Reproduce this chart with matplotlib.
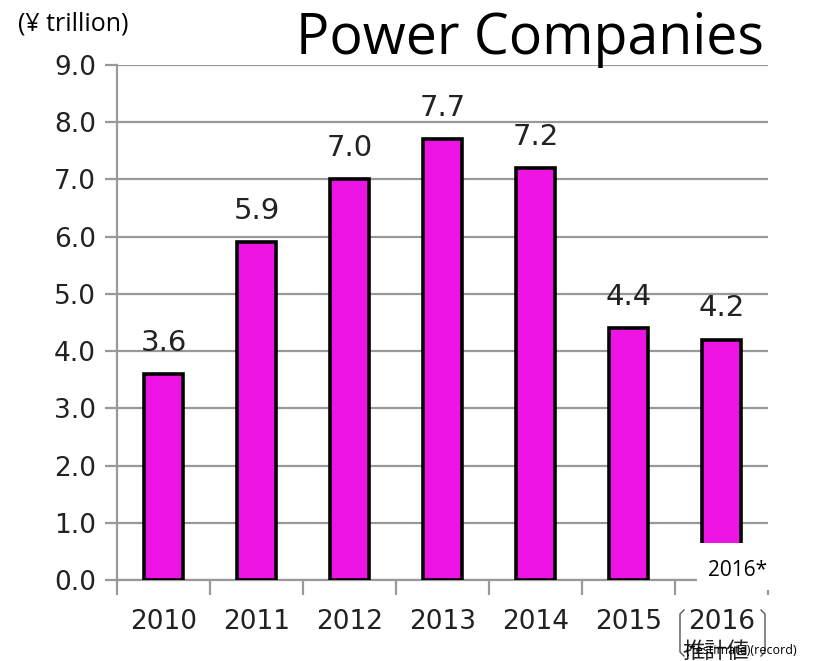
import numpy as np
import matplotlib.pyplot as plt
from matplotlib.lines import Line2D
from matplotlib.patches import Rectangle

# fuel cost of the 10 power companies
years = ['2010', '2011', '2012', '2013', '2014', '2015', '2016']
cost = [3.6, 5.9, 7.0, 7.7, 7.2, 4.4, 4.2]
yticks = [0.0, 1.0, 2.0, 3.0, 4.0, 5.0, 6.0, 7.0, 8.0, 9.0]

W, H = 816, 661
fig = plt.figure(figsize=(W/100, H/100), dpi=100)
ax = fig.add_axes([117/W, 1-580/H, (768-117)/W, (580-65)/H])

x = np.arange(len(years))
ax.bar(x, cost, width=0.43, color='#EE14E6', edgecolor='black', linewidth=2.6, zorder=3)
for xi, v in zip(x, cost):
    ax.text(xi, v + 0.3, '%.1f' % v, ha='center', va='bottom', fontsize=21, color='#222222')

ax.set_xlim(-0.5, len(years) - 0.5)
ax.set_ylim(0, 9)
ax.set_yticks(yticks)
ax.set_yticklabels(['%.1f' % t for t in yticks], fontsize=19, color='#222222')
ax.yaxis.grid(True, color='#999999', linewidth=1.6, zorder=0)
ax.tick_params(axis='y', length=9, width=1.6, color='#999999', pad=6)

# category ticks between the bars, labels in the middle
ax.set_xticks(np.arange(len(years) + 1) - 0.5)
ax.set_xticklabels([])
ax.set_xticks(x, minor=True)
ax.set_xticklabels(years, minor=True, fontsize=19, color='#222222')
ax.tick_params(axis='x', which='major', length=11, width=1.6, color='#999999')
ax.tick_params(axis='x', which='minor', length=0, pad=21)

for s in ['top', 'right']:
    ax.spines[s].set_visible(False)
for s in ['left', 'bottom']:
    ax.spines[s].set_color('#999999')
    ax.spines[s].set_linewidth(1.6)

# headings
fig.text(18/W, 1-24/H, '(¥ trillion)', fontsize=18, family='Open Sans', va='center', ha='left')
fig.text(530/W, 1-40/H, 'Power Companies', fontsize=40, family='Open Sans', va='center', ha='center')
fig.text(22/W, 1-(-17)/H, '【電力10社の燃料費推移】', fontsize=28, family=['Noto Sans CJK JP', 'DejaVu Sans'],
         va='center', ha='left', color='#222222')

# 2016 estimate overlay
fig.add_artist(Rectangle((697/W, 1-590/H), 81/W, 47/H, transform=fig.transFigure,
                         facecolor='white', edgecolor='none', zorder=5))
fig.text(738/W, 1-571/H, '2016*', fontsize=15, family='Open Sans', va='center', ha='center', zorder=6)
fig.text(716/W, 1-651/H, '推計値', fontsize=16, family=['Noto Sans CJK JP', 'DejaVu Sans'],
         va='center', ha='center', color='#222222')
fig.text(741/W, 1-650/H, '(*estimate)(record)', fontsize=9, family='Open Sans', va='center', ha='center')
for bx, d in [(680, 1), (765, -1)]:
    fig.add_artist(Line2D([(bx + 4*d)/W, bx/W, bx/W, (bx + 4*d)/W],
                          [1-610/H, 1-614/H, 1-652/H, 1-656/H], color='#555555', linewidth=1.0))

fig.savefig('out.png', dpi=100)
